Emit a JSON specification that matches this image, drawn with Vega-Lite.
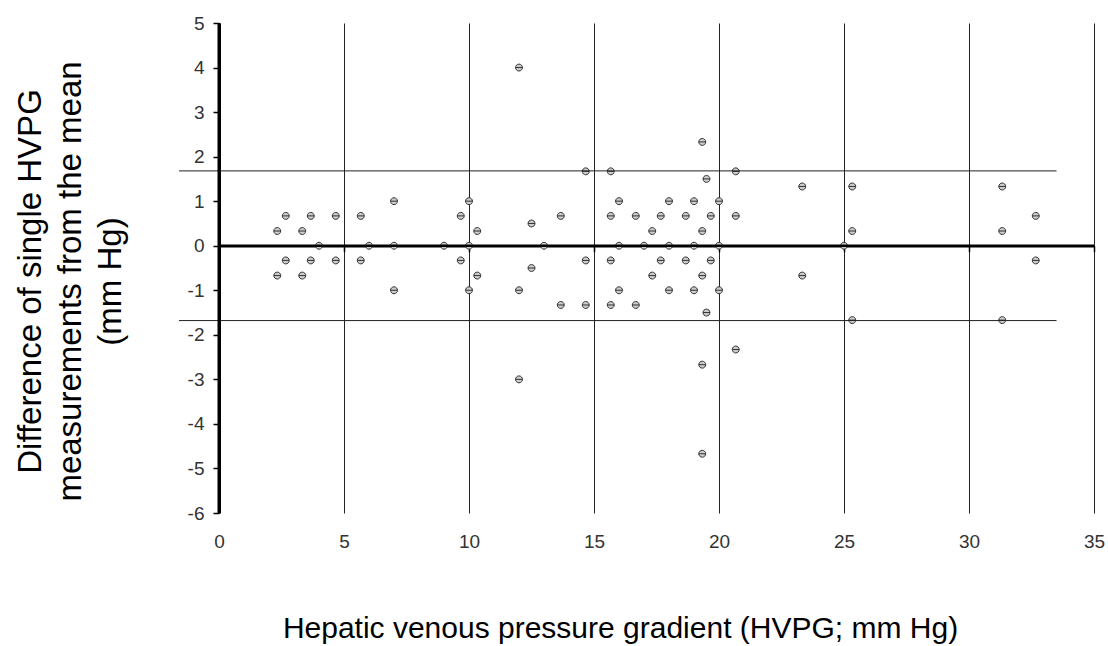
{
  "$schema": "https://vega.github.io/schema/vega-lite/v6.json",
  "width": 875,
  "height": 490,
  "autosize": {"type": "none"},
  "padding": {"left": 219, "top": 23, "right": 14, "bottom": 133},
  "background": "white",
  "config": {
    "view": {"stroke": null},
    "font": "Liberation Sans",
    "axis": {"labelFont": "Liberation Sans", "titleFont": "Liberation Sans", "titleFontWeight": "normal", "labelFlush": false, "labelOverlap": false}
  },
  "resolve": {"axis": {"x": "independent", "y": "independent"}},
  "layer": [
    {
      "data": {
        "values": [
          {"hvpg": 2.33, "diff": 0.33}, {"hvpg": 2.33, "diff": -0.67},
          {"hvpg": 2.67, "diff": 0.67}, {"hvpg": 2.67, "diff": -0.33},
          {"hvpg": 3.33, "diff": 0.33}, {"hvpg": 3.33, "diff": -0.67},
          {"hvpg": 3.67, "diff": 0.67}, {"hvpg": 3.67, "diff": -0.33},
          {"hvpg": 4, "diff": 0},
          {"hvpg": 4.67, "diff": 0.67}, {"hvpg": 4.67, "diff": -0.33},
          {"hvpg": 5.67, "diff": 0.67}, {"hvpg": 5.67, "diff": -0.33},
          {"hvpg": 6, "diff": 0},
          {"hvpg": 7, "diff": 1}, {"hvpg": 7, "diff": 0}, {"hvpg": 7, "diff": -1},
          {"hvpg": 9, "diff": 0},
          {"hvpg": 9.67, "diff": 0.67}, {"hvpg": 9.67, "diff": -0.33},
          {"hvpg": 10, "diff": 1}, {"hvpg": 10, "diff": 0}, {"hvpg": 10, "diff": -1},
          {"hvpg": 10.33, "diff": 0.33}, {"hvpg": 10.33, "diff": -0.67},
          {"hvpg": 12, "diff": 4}, {"hvpg": 12, "diff": -1}, {"hvpg": 12, "diff": -3},
          {"hvpg": 12.5, "diff": 0.5}, {"hvpg": 12.5, "diff": -0.5},
          {"hvpg": 13, "diff": 0},
          {"hvpg": 13.67, "diff": 0.67}, {"hvpg": 13.67, "diff": -1.33},
          {"hvpg": 14.67, "diff": 1.67}, {"hvpg": 14.67, "diff": -0.33}, {"hvpg": 14.67, "diff": -1.33},
          {"hvpg": 15.67, "diff": 1.67}, {"hvpg": 15.67, "diff": 0.67}, {"hvpg": 15.67, "diff": -0.33}, {"hvpg": 15.67, "diff": -1.33},
          {"hvpg": 16, "diff": 1}, {"hvpg": 16, "diff": 0}, {"hvpg": 16, "diff": -1},
          {"hvpg": 16.67, "diff": 0.67}, {"hvpg": 16.67, "diff": -1.33},
          {"hvpg": 17, "diff": 0},
          {"hvpg": 17.33, "diff": 0.33}, {"hvpg": 17.33, "diff": -0.67},
          {"hvpg": 17.67, "diff": 0.67}, {"hvpg": 17.67, "diff": -0.33},
          {"hvpg": 18, "diff": 1}, {"hvpg": 18, "diff": 0}, {"hvpg": 18, "diff": -1},
          {"hvpg": 18.67, "diff": 0.67}, {"hvpg": 18.67, "diff": -0.33},
          {"hvpg": 19, "diff": 1}, {"hvpg": 19, "diff": 0}, {"hvpg": 19, "diff": -1},
          {"hvpg": 19.33, "diff": 2.33}, {"hvpg": 19.33, "diff": 0.33}, {"hvpg": 19.33, "diff": -0.67}, {"hvpg": 19.33, "diff": -2.67}, {"hvpg": 19.33, "diff": -4.67},
          {"hvpg": 19.5, "diff": 1.5}, {"hvpg": 19.5, "diff": -1.5},
          {"hvpg": 19.67, "diff": 0.67}, {"hvpg": 19.67, "diff": -0.33},
          {"hvpg": 20, "diff": 1}, {"hvpg": 20, "diff": 0}, {"hvpg": 20, "diff": -1},
          {"hvpg": 20.67, "diff": 1.67}, {"hvpg": 20.67, "diff": 0.67}, {"hvpg": 20.67, "diff": -2.33},
          {"hvpg": 23.33, "diff": 1.33}, {"hvpg": 23.33, "diff": -0.67},
          {"hvpg": 25, "diff": 0},
          {"hvpg": 25.33, "diff": 1.33}, {"hvpg": 25.33, "diff": 0.33}, {"hvpg": 25.33, "diff": -1.67},
          {"hvpg": 31.33, "diff": 1.33}, {"hvpg": 31.33, "diff": 0.33}, {"hvpg": 31.33, "diff": -1.67},
          {"hvpg": 32.67, "diff": 0.67}, {"hvpg": 32.67, "diff": -0.33}
        ]
      },
      "mark": {
        "type": "point",
        "shape": "M-1,0A1,1 0 1,0 1,0A1,1 0 1,0 -1,0M-1,0L1,0",
        "size": 48,
        "fill": "#cccccc",
        "fillOpacity": 1,
        "stroke": "#333333",
        "strokeWidth": 1,
        "opacity": 1
      },
      "encoding": {
        "x": {
          "field": "hvpg", "type": "quantitative",
          "scale": {"domain": [0, 35], "nice": false, "zero": false},
          "axis": {
            "orient": "bottom",
            "values": [0, 5, 10, 15, 20, 25, 30, 35],
            "domain": false, "ticks": false, "tickSize": 0,
            "grid": true, "gridColor": "#222222", "gridWidth": 1, "gridOpacity": 1,
            "labelFontSize": 19, "labelColor": "#333333", "labelPadding": 19,
            "title": "Hepatic venous pressure gradient (HVPG; mm Hg)",
            "titleFontSize": 30, "titleColor": "#000000",
            "titleX": 401, "titleY": 124, "titleAlign": "center", "titleBaseline": "alphabetic"
          }
        },
        "y": {
          "field": "diff", "type": "quantitative",
          "scale": {"domain": [-6, 5], "nice": false, "zero": false},
          "axis": {
            "orient": "left",
            "values": [-6, -5, -4, -3, -2, -1, 0, 1, 2, 3, 4, 5],
            "labelExpr": "'' + datum.value",
            "domain": true, "domainColor": "#000000", "domainWidth": 3,
            "ticks": true, "tickSize": 6, "tickWidth": 1.5, "tickColor": "#000000",
            "grid": false,
            "labelFontSize": 19, "labelColor": "#333333", "labelPadding": 9,
            "title": ["Difference of single HVPG", "measurements from the mean", "(mm Hg)"],
            "titleFontSize": 33, "titleColor": "#000000", "titleLineHeight": 40,
            "titleAngle": -90,
            "titleX": -179, "titleY": 258, "titleAlign": "center", "titleBaseline": "alphabetic"
          }
        }
      }
    },
    {
      "data": {"values": [{"x1": -1.6, "x2": 33.5, "lim": 1.68}, {"x1": -1.6, "x2": 33.5, "lim": -1.68}]},
      "mark": {"type": "rule", "color": "#222222", "strokeWidth": 1, "clip": false},
      "encoding": {
        "x": {"field": "x1", "type": "quantitative", "axis": null},
        "x2": {"field": "x2"},
        "y": {"field": "lim", "type": "quantitative", "axis": null}
      }
    },
    {
      "data": {"values": [{"xa": 0, "ya": -6, "yb": 5}]},
      "mark": {"type": "rule", "color": "#000000", "strokeWidth": 3},
      "encoding": {
        "x": {"field": "xa", "type": "quantitative", "axis": null},
        "y": {"field": "ya", "type": "quantitative", "axis": null},
        "y2": {"field": "yb"}
      }
    },
    {
      "data": {"values": [{"x1": 0, "x2": 35, "zero": 0}]},
      "mark": {"type": "rule", "color": "#000000", "strokeWidth": 2.5},
      "encoding": {
        "x": {
          "field": "x1", "type": "quantitative",
          "axis": {
            "orient": "bottom", "offset": -267.3,
            "values": [5, 10, 15, 20, 25, 30, 35],
            "domain": true, "domainColor": "#000000", "domainWidth": 2.5,
            "ticks": true, "tickSize": 6, "tickWidth": 1.5, "tickColor": "#000000",
            "labels": false, "grid": false, "title": null
          }
        },
        "x2": {"field": "x2"},
        "y": {"field": "zero", "type": "quantitative", "axis": null}
      }
    }
  ]
}
